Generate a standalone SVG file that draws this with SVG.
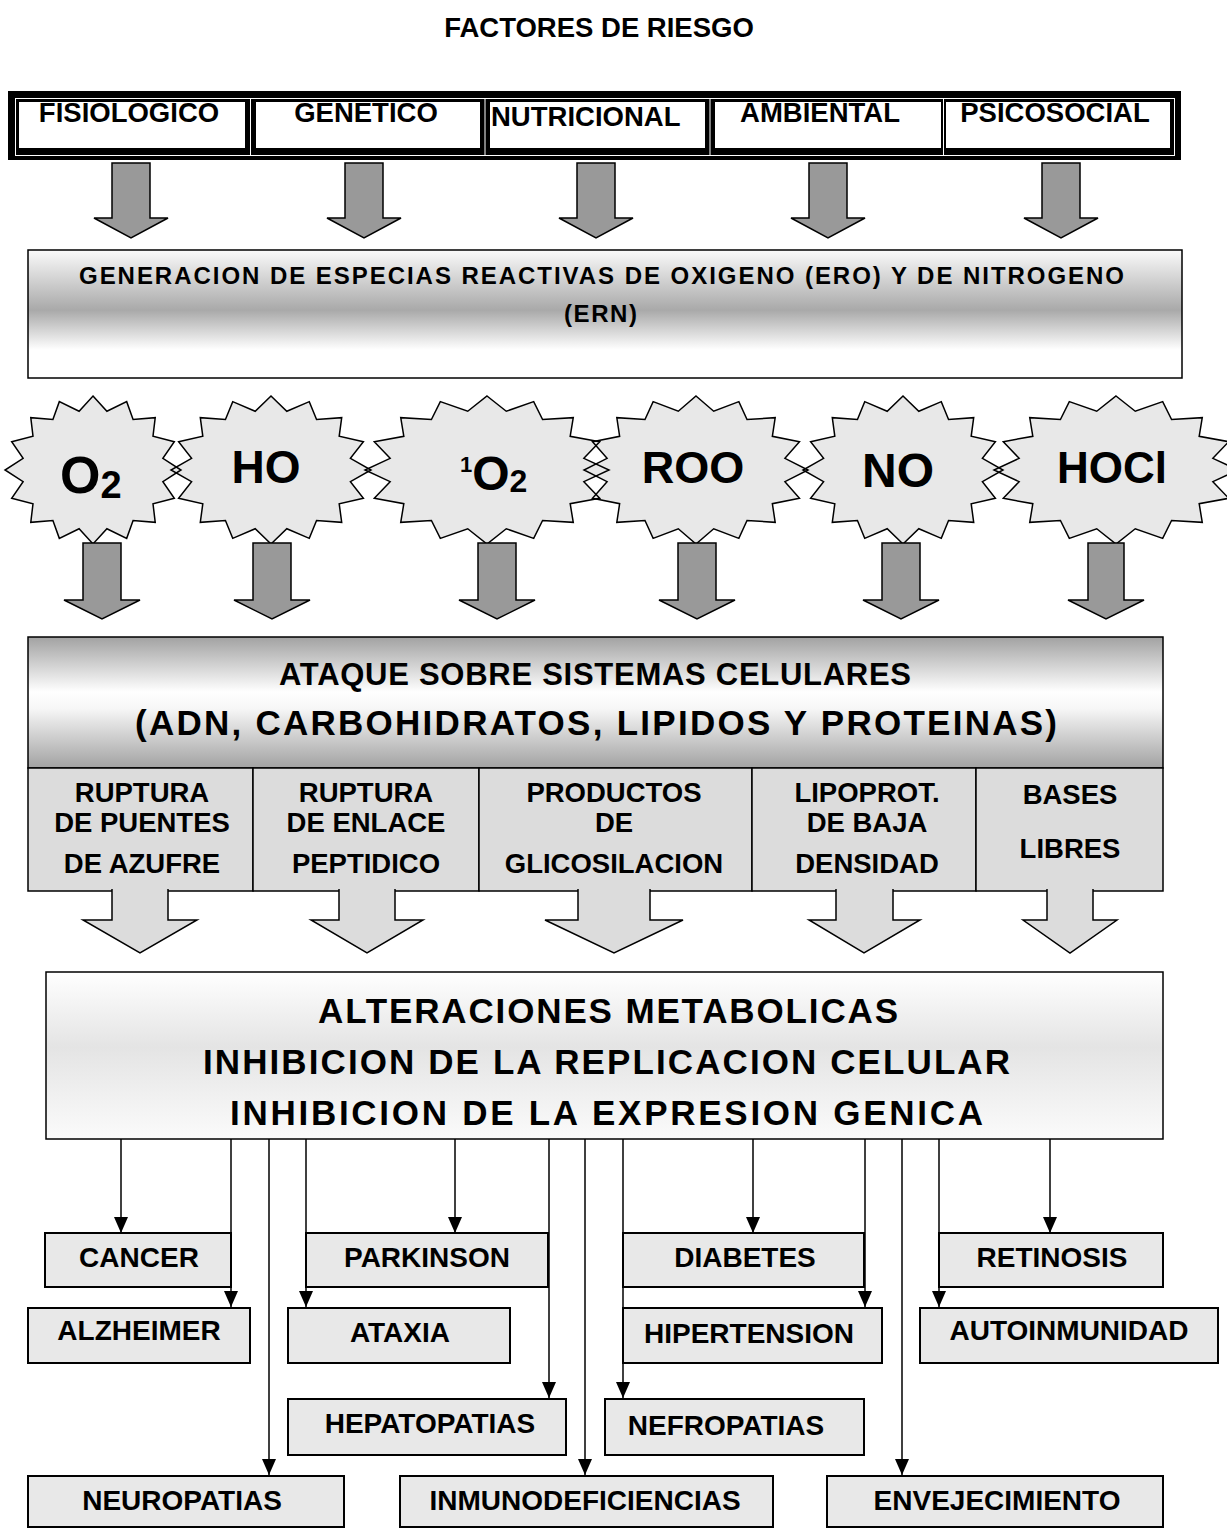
<svg xmlns="http://www.w3.org/2000/svg" xmlns:xlink="http://www.w3.org/1999/xlink" width="1227" height="1528" viewBox="0 0 1227 1528">
<style>
.t{font-family:'Liberation Sans',Arial,sans-serif;font-weight:bold;fill:#000}
.c{text-anchor:middle}
.box{fill:#e8e8e8;stroke:#000;stroke-width:2}
.cell{fill:#dcdcdc;stroke:#000;stroke-width:1.5}
.ln{stroke:#000;stroke-width:1.5;fill:none;marker-end:url(#ah)}
.da{fill:#999;stroke:#000;stroke-width:1.5;stroke-linejoin:miter}
.la{fill:#dcdcdc;stroke:#000;stroke-width:1.5}
.hd{font-size:27.5px}
.sc{font-size:27.5px}
.bx{font-size:28px}
</style>
<defs>
<linearGradient id="gGen" x1="0" y1="0" x2="0" y2="1">
<stop offset="0" stop-color="#fafafa"/><stop offset="0.47" stop-color="#a9a9a9"/><stop offset="0.78" stop-color="#ffffff"/><stop offset="1" stop-color="#ffffff"/>
</linearGradient>
<linearGradient id="gAtq" x1="0" y1="0" x2="0" y2="1">
<stop offset="0" stop-color="#a2a2a2"/><stop offset="0.42" stop-color="#ffffff"/><stop offset="0.55" stop-color="#f6f6f6"/><stop offset="1" stop-color="#a2a2a2"/>
</linearGradient>
<linearGradient id="gAlt" x1="0" y1="0" x2="0" y2="1">
<stop offset="0" stop-color="#ffffff"/><stop offset="0.45" stop-color="#e4e4e4"/><stop offset="1" stop-color="#fbfbfb"/>
</linearGradient>
<polygon id="star16" vector-effect="non-scaling-stroke" points="0,-1 .158,-.794 .3827,-.9239 .4556,-.6818 .7071,-.7071 .6818,-.4556 .9239,-.3827 .794,-.158 1,0 .794,.158 .9239,.3827 .6818,.4556 .7071,.7071 .4556,.6818 .3827,.9239 .158,.794 0,1 -.158,.794 -.3827,.9239 -.4556,.6818 -.7071,.7071 -.6818,.4556 -.9239,.3827 -.794,.158 -1,0 -.794,-.158 -.9239,-.3827 -.6818,-.4556 -.7071,-.7071 -.4556,-.6818 -.3827,-.9239 -.158,-.794"/>
<marker id="ah" markerUnits="userSpaceOnUse" markerWidth="16" markerHeight="14" viewBox="0 0 16 14" refX="16" refY="7" orient="auto">
<path d="M0,0 L16,7 L0,14 z" fill="#000"/>
</marker>
</defs>
<rect width="1227" height="1528" fill="#fff"/>

<g id="title"><text class="t c" x="599" y="37" font-size="27.5">FACTORES DE RIESGO</text></g>

<g id="factores-frame">
<rect x="8" y="91" width="1173" height="69" fill="#000"/>
<rect x="15.5" y="98.5" width="1159" height="57" fill="none" stroke="#fff" stroke-width="1"/>
<path d="M250.5,98.5V155.5M485,98.5V155.5M710,98.5V155.5M943.5,98.5V155.5" stroke="#fff" stroke-width="1"/>
</g>
<g id="fisiologico"><rect x="19" y="102" width="226" height="46" fill="#fff"/><text class="t c hd" x="129" y="122">FISIOLOGICO</text></g>
<g id="genetico"><rect x="256" y="102" width="224" height="46" fill="#fff"/><text class="t c hd" x="366" y="122">GENETICO</text></g>
<g id="nutricional"><rect x="490" y="102" width="215" height="46" fill="#fff"/><text class="t hd" x="491" y="126">NUTRICIONAL</text></g>
<g id="ambiental"><rect x="715" y="102" width="226" height="46" fill="#fff"/><text class="t c hd" x="820" y="122">AMBIENTAL</text></g>
<g id="psicosocial"><rect x="946" y="102" width="224" height="46" fill="#fff"/><text class="t c hd" x="1055" y="122">PSICOSOCIAL</text></g>

<g id="generacion">
<rect x="28" y="250" width="1154" height="128" fill="url(#gGen)" stroke="#000" stroke-width="1.5"/>
<text class="t" x="79" y="284" font-size="24" textLength="1045" lengthAdjust="spacing">GENERACION DE ESPECIAS REACTIVAS DE OXIGENO (ERO) Y DE NITROGENO</text>
<text class="t" x="564" y="322" font-size="24" textLength="73" lengthAdjust="spacing">(ERN)</text>
</g>

<g id="stars-fill" fill="#e8e8e8" stroke="none">
<use xlink:href="#star16" transform="translate(93,470) scale(88,74)"/>
<use xlink:href="#star16" transform="translate(271,470) scale(100,74)"/>
<use xlink:href="#star16" transform="translate(487,470) scale(122,74)"/>
<use xlink:href="#star16" transform="translate(696,470) scale(112,74)"/>
<use xlink:href="#star16" transform="translate(903,470) scale(100,74)"/>
<use xlink:href="#star16" transform="translate(1116,470) scale(122,74)"/>
</g>
<g id="star-o2"><use xlink:href="#star16" transform="translate(93,470) scale(88,74)" fill="none" stroke="#000" stroke-width="1.5"/><text class="t" x="60" y="493" font-size="52">O<tspan font-size="38" dy="5">2</tspan></text></g>
<g id="star-ho"><use xlink:href="#star16" transform="translate(271,470) scale(100,74)" fill="none" stroke="#000" stroke-width="1.5"/><text class="t c" x="266" y="483" font-size="46">HO</text></g>
<g id="star-1o2"><use xlink:href="#star16" transform="translate(487,470) scale(122,74)" fill="none" stroke="#000" stroke-width="1.5"/><text class="t" x="460" y="490"><tspan font-size="22" dy="-18">1</tspan><tspan font-size="48" dy="18">O</tspan><tspan font-size="32" dy="2">2</tspan></text></g>
<g id="star-roo"><use xlink:href="#star16" transform="translate(696,470) scale(112,74)" fill="none" stroke="#000" stroke-width="1.5"/><text class="t c" x="693" y="483" font-size="45">ROO</text></g>
<g id="star-no"><use xlink:href="#star16" transform="translate(903,470) scale(100,74)" fill="none" stroke="#000" stroke-width="1.5"/><text class="t c" x="898" y="487" font-size="48">NO</text></g>
<g id="star-hocl"><use xlink:href="#star16" transform="translate(1116,470) scale(122,74)" fill="none" stroke="#000" stroke-width="1.5"/><text class="t c" x="1112" y="483" font-size="44">HOCl</text></g>

<g id="ataque">
<rect x="28" y="637" width="1135" height="131" fill="url(#gAtq)" stroke="#000" stroke-width="1.5"/>
<text class="t" x="279" y="685" font-size="31" textLength="632" lengthAdjust="spacing">ATAQUE SOBRE SISTEMAS CELULARES</text>
<text class="t" x="135" y="735" font-size="35" textLength="922" lengthAdjust="spacing">(ADN, CARBOHIDRATOS, LIPIDOS Y PROTEINAS)</text>
</g>
<g id="cell-puentes"><rect class="cell" x="28" y="768" width="225" height="123"/>
<text class="t c sc" x="142" y="802">RUPTURA</text><text class="t c sc" x="142" y="832">DE PUENTES</text><text class="t c sc" x="142" y="873">DE AZUFRE</text></g>
<g id="cell-enlace"><rect class="cell" x="253" y="768" width="226" height="123"/>
<text class="t c sc" x="366" y="802">RUPTURA</text><text class="t c sc" x="366" y="832">DE ENLACE</text><text class="t c sc" x="366" y="873">PEPTIDICO</text></g>
<g id="cell-glicosilacion"><rect class="cell" x="479" y="768" width="273" height="123"/>
<text class="t c sc" x="614" y="802">PRODUCTOS</text><text class="t c sc" x="614" y="832">DE</text><text class="t c sc" x="614" y="873">GLICOSILACION</text></g>
<g id="cell-lipoprot"><rect class="cell" x="752" y="768" width="224" height="123"/>
<text class="t c sc" x="867" y="802">LIPOPROT.</text><text class="t c sc" x="867" y="832">DE BAJA</text><text class="t c sc" x="867" y="873">DENSIDAD</text></g>
<g id="cell-bases"><rect class="cell" x="976" y="768" width="187" height="123"/>
<text class="t c sc" x="1070" y="804">BASES</text><text class="t c sc" x="1070" y="858">LIBRES</text></g>

<g id="alteraciones">
<rect x="46" y="972" width="1117" height="167" fill="url(#gAlt)" stroke="#000" stroke-width="1.5"/>
<text class="t" x="318" y="1023" font-size="35" textLength="580" lengthAdjust="spacing">ALTERACIONES METABOLICAS</text>
<text class="t" x="203" y="1074" font-size="35" textLength="807" lengthAdjust="spacing">INHIBICION DE LA REPLICACION CELULAR</text>
<text class="t" x="230" y="1125" font-size="35" textLength="753" lengthAdjust="spacing">INHIBICION DE LA EXPRESION GENICA</text>
</g>

<g id="cancer"><rect class="box" x="45" y="1233" width="186" height="54"/><text class="t c bx" x="139" y="1267">CANCER</text></g>
<g id="parkinson"><rect class="box" x="306" y="1233" width="242" height="54"/><text class="t c bx" x="427" y="1267">PARKINSON</text></g>
<g id="diabetes"><rect class="box" x="623" y="1233" width="241" height="54"/><text class="t c bx" x="745" y="1267">DIABETES</text></g>
<g id="retinosis"><rect class="box" x="939" y="1233" width="224" height="54"/><text class="t c bx" x="1052" y="1267">RETINOSIS</text></g>
<g id="alzheimer"><rect class="box" x="28" y="1308" width="222" height="55"/><text class="t c bx" x="139" y="1340">ALZHEIMER</text></g>
<g id="ataxia"><rect class="box" x="288" y="1308" width="222" height="55"/><text class="t c bx" x="400" y="1342">ATAXIA</text></g>
<g id="hipertension"><rect class="box" x="623" y="1308" width="259" height="55"/><text class="t c bx" x="749" y="1343">HIPERTENSION</text></g>
<g id="autoinmunidad"><rect class="box" x="920" y="1308" width="298" height="55"/><text class="t c bx" x="1069" y="1340">AUTOINMUNIDAD</text></g>
<g id="hepatopatias"><rect class="box" x="288" y="1399" width="278" height="56"/><text class="t c bx" x="430" y="1433">HEPATOPATIAS</text></g>
<g id="nefropatias"><rect class="box" x="605" y="1399" width="259" height="56"/><text class="t c bx" x="726" y="1435">NEFROPATIAS</text></g>
<g id="neuropatias"><rect class="box" x="28" y="1476" width="316" height="51"/><text class="t c bx" x="182" y="1510">NEUROPATIAS</text></g>
<g id="inmunodeficiencias"><rect class="box" x="400" y="1476" width="373" height="51"/><text class="t c bx" x="585" y="1510">INMUNODEFICIENCIAS</text></g>
<g id="envejecimiento"><rect class="box" x="827" y="1476" width="336" height="51"/><text class="t c bx" x="997" y="1510">ENVEJECIMIENTO</text></g>

<g id="connectors">
<polygon class="da" points="112,163 150,163 150,218 168,218 131,238 94,218 112,218"/>
<polygon class="da" points="345,163 383,163 383,218 401,218 364,238 327,218 345,218"/>
<polygon class="da" points="577,163 615,163 615,218 633,218 596,238 559,218 577,218"/>
<polygon class="da" points="809,163 847,163 847,218 865,218 828,238 791,218 809,218"/>
<polygon class="da" points="1042,163 1080,163 1080,218 1098,218 1061,238 1024,218 1042,218"/>

<polygon class="da" points="83,543 121,543 121,600 140,600 102,619 64,600 83,600"/>
<polygon class="da" points="253,543 291,543 291,600 310,600 272,619 234,600 253,600"/>
<polygon class="da" points="478,543 516,543 516,600 535,600 497,619 459,600 478,600"/>
<polygon class="da" points="678,543 716,543 716,600 735,600 697,619 659,600 678,600"/>
<polygon class="da" points="882,543 920,543 920,600 939,600 901,619 863,600 882,600"/>
<polygon class="da" points="1088,543 1124,543 1124,600 1144,600 1106,619 1068,600 1088,600"/>

<path class="la" d="M112,889V920H83L140,953L197,920H168V889"/>
<path class="la" d="M339,889V920H311L367,953L423,920H395V889"/>
<path class="la" d="M578,889V920H545L614,953L683,920H650V889"/>
<path class="la" d="M836,889V920H809L864,953L920,920H893V889"/>
<path class="la" d="M1047,889V920H1023L1070,953L1117,920H1093V889"/>

<line class="ln" x1="121" y1="1139" x2="121" y2="1233"/>
<line class="ln" x1="231" y1="1139" x2="231" y2="1307"/>
<line class="ln" x1="269" y1="1139" x2="269" y2="1475"/>
<line class="ln" x1="306" y1="1139" x2="306" y2="1307"/>
<line class="ln" x1="455" y1="1139" x2="455" y2="1233"/>
<line class="ln" x1="549" y1="1139" x2="549" y2="1398"/>
<line class="ln" x1="585" y1="1139" x2="585" y2="1475"/>
<line class="ln" x1="623" y1="1139" x2="623" y2="1398"/>
<line class="ln" x1="753" y1="1139" x2="753" y2="1233"/>
<line class="ln" x1="865" y1="1139" x2="865" y2="1307"/>
<line class="ln" x1="902" y1="1139" x2="902" y2="1475"/>
<line class="ln" x1="939" y1="1139" x2="939" y2="1307"/>
<line class="ln" x1="1050" y1="1139" x2="1050" y2="1233"/>
</g>
</svg>
